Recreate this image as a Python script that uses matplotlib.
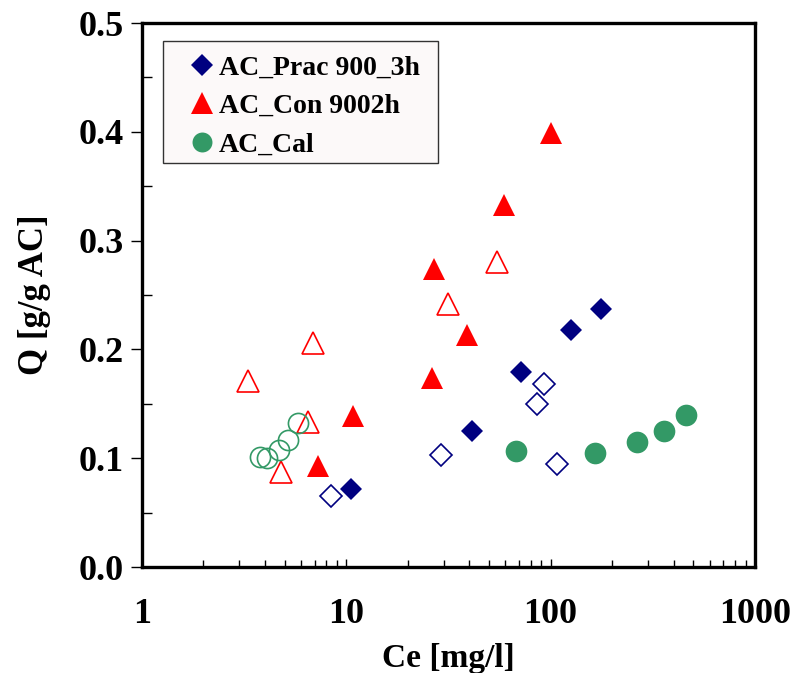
"""Adsorption isotherm: Q vs Ce for the three activated carbon sets (log x)."""
import matplotlib

matplotlib.use("Agg")
import matplotlib.pyplot as plt
from matplotlib import ticker
from matplotlib.patches import Rectangle

plt.rcParams["font.family"] = ["Liberation Serif", "DejaVu Serif"]
plt.rcParams["font.weight"] = "bold"

NAVY = "#000080"
RED = "#ff0000"
GREEN = "#339966"

# AC_Prac 900_3h
prac_ce = [10.5, 41.2, 71.6, 126, 177]
prac_q = [0.072, 0.125, 0.179, 0.218, 0.237]
prac_open_ce = [8.4, 29.1, 85.5, 92.9, 107]
prac_open_q = [0.065, 0.103, 0.150, 0.168, 0.095]

# AC_Con 9002h
con_ce = [7.3, 10.75, 26.4, 26.9, 38.8, 59.3, 100.5]
con_q = [0.093, 0.139, 0.174, 0.274, 0.213, 0.333, 0.399]
con_open_ce = [3.31, 4.77, 6.47, 6.9, 31.6, 54.5]
con_open_q = [0.171, 0.087, 0.133, 0.206, 0.242, 0.280]

# AC_Cal
cal_ce = [67.7, 165.5, 264, 358, 459]
cal_q = [0.107, 0.105, 0.115, 0.125, 0.140]
cal_open_ce = [3.78, 4.08, 4.68, 5.2, 5.78]
cal_open_q = [0.101, 0.100, 0.108, 0.117, 0.132]

x_ticks = [1, 10, 100, 1000]
x_tick_labels = ["1", "10", "100", "1000"]
y_ticks = [0.0, 0.1, 0.2, 0.3, 0.4, 0.5]


def main():
    fig = plt.figure(figsize=(7.94, 6.73), dpi=100)
    ax = fig.add_axes([0.1788, 0.1575, 0.772, 0.8083])

    # hollow symbols (no legend entry)
    ax.plot(prac_open_ce, prac_open_q, "D", ms=10.7, mfc="none", mec=NAVY, mew=1.2, ls="none")
    ax.plot(con_open_ce, con_open_q, "^", ms=15.8, mfc="none", mec=RED, mew=1.2, ls="none")
    ax.plot(cal_open_ce, cal_open_q, "o", ms=14.5, mfc="none", mec=GREEN, mew=1.2, ls="none")

    # filled symbols
    h1, = ax.plot(prac_ce, prac_q, "D", ms=11.7, color=NAVY, mew=0, ls="none",
                  label="AC_Prac 900_3h")
    h2, = ax.plot(con_ce, con_q, "^", ms=16.5, color=RED, mew=0, ls="none",
                  label="AC_Con 9002h")
    h3, = ax.plot(cal_ce, cal_q, "o", ms=15.6, color=GREEN, mew=0, ls="none",
                  label="AC_Cal")

    ax.set_xscale("log")
    ax.set_xlim(1, 1000)
    ax.set_ylim(0, 0.5)

    ax.set_xticks(x_ticks)
    ax.set_xticklabels(x_tick_labels)
    ax.xaxis.set_minor_locator(ticker.LogLocator(base=10, subs=range(2, 10)))
    ax.xaxis.set_minor_formatter(ticker.NullFormatter())
    ax.set_yticks(y_ticks)
    ax.yaxis.set_major_formatter(ticker.FormatStrFormatter("%.1f"))
    ax.yaxis.set_minor_locator(ticker.MultipleLocator(0.05))

    ax.tick_params(axis="x", which="major", direction="in", length=6, width=1,
                   pad=22, labelsize=26)
    ax.tick_params(axis="x", which="minor", direction="in", length=5, width=1)
    ax.tick_params(axis="y", which="major", direction="out", length=8, width=1,
                   pad=5, labelsize=26)
    ax.tick_params(axis="y", which="minor", direction="in", length=7, width=1)

    for side in ax.spines.values():
        side.set_linewidth(2.4)

    ax.set_xlabel("Ce [mg/l]", fontsize=24, fontweight="bold", labelpad=9)
    ax.set_ylabel("Q [g/g AC]", fontsize=25, fontweight="bold", labelpad=20)

    # legend box drawn separately so the entries can sit with a wide left margin
    ax.add_patch(Rectangle((0.034, 0.743), 0.449, 0.224, transform=ax.transAxes,
                           facecolor="#fcf9f9", edgecolor="#333333", lw=1.0,
                           zorder=4))
    leg = ax.legend(handles=[h1, h2, h3], loc="upper left",
                    bbox_to_anchor=(0.057, 0.967), fontsize=20, markerscale=0.92,
                    handlelength=0.8, handletextpad=0.2, borderpad=0,
                    labelspacing=0.47, frameon=False)
    leg.set_zorder(5)

    fig.savefig("out.png", dpi=100)
    plt.close(fig)


if __name__ == "__main__":
    main()
